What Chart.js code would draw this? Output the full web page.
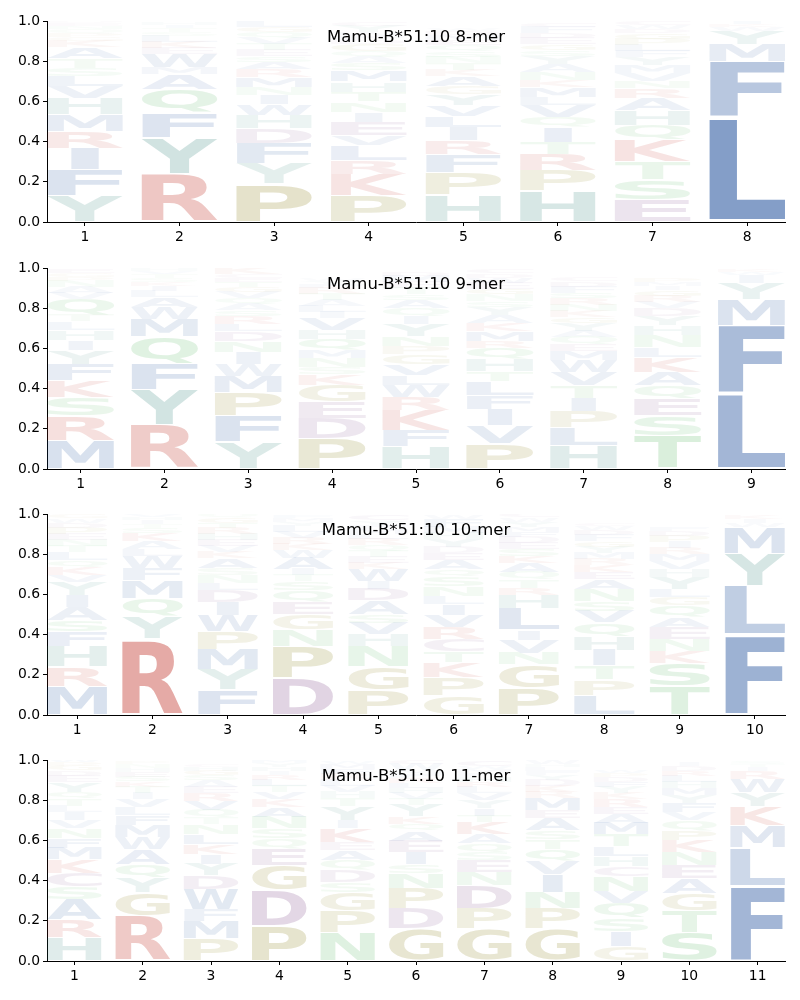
<!DOCTYPE html>
<html><head><meta charset="utf-8">
<script src="https://cdn.jsdelivr.net/npm/chart.js@4.4.0/dist/chart.umd.min.js"></script>
<style>
html,body{margin:0;padding:0;background:#fff;}
#wrap{position:relative;width:800px;height:1000px;background:#fff;}
canvas{position:absolute;left:0;}
</style></head><body><div id="wrap">
<canvas id="c8" width="800" height="246" style="top:0px"></canvas>
<canvas id="c9" width="800" height="246" style="top:247px"></canvas>
<canvas id="c10" width="800" height="246" style="top:493px"></canvas>
<canvas id="c11" width="800" height="246" style="top:739px"></canvas>
</div>
<script>
// ---- data: each column lists letters bottom -> top with their heights ----
const title8 = "Mamu-B*51:10 8-mer";
const pos8 = ["1","2","3","4","5","6","7","8"];
const logo8 = [
  "Y.133 F.13 I.105 R.083 M.083 H.08 V.06 L.053 S.04 T.046 A.055 K.03 G.02 P.02 Q.02 N.015 E.015 D.01",
  "R.24 Y.18 F.125 Q.115 A.075 M.035 W.065 E.03 K.03 L.03 S.02 T.02 I.015 H.015",
  "P.19 Y.1 F.1 D.075 H.065 W.055 I.045 N.04 M.05 R.04 A.035 S.03 E.03 T.03 V.03 Q.03 G.025 L.03",
  "P.133 K.105 R.07 L.075 V.05 E.065 I.05 N.05 T.05 H.05 M.055 S.035 A.03 Q.03 G.035 D.02 F.02 W.02 Y.03 C.02",
  "H.135 P.11 F.09 R.07 I.065 L.055 V.055 Y.055 G.04 A.05 K.03 T.035 N.03 S.03 Q.03 E.025 M.025 D.02 W.01",
  "H.155 P.1 R.083 T.058 I.075 Q.05 V.058 L.043 M.05 K.033 N.04 A.04 Y.04 S.03 G.03 E.03 D.025 F.03 C.02",
  "E.11 S.1 T.09 K.108 Q.075 H.075 A.058 R.05 N.035 V.04 M.04 Y.04 F.03 L.03 P.03 G.03 D.02 W.02 C.02",
  "L.52 F.28 M.085 Y.065 W.02 K.015 I.015"
];
const title9 = "Mamu-B*51:10 9-mer";
const pos9 = ["1","2","3","4","5","6","7","8","9"];
const logo9 = [
  "M.143 R.124 S.09 K.083 F.083 Y.07 I.05 H.05 L.04 T.033 Q.08 V.03 A.03 N.03 P.02 G.02 E.02",
  "R.217 Y.177 F.13 Q.133 M.09 W.058 A.05 L.03 I.025 K.02 S.02 T.02 V.015 H.015",
  "Y.134 F.13 P.115 M.083 W.06 I.058 N.055 D.05 L.035 R.04 S.03 A.03 Q.03 V.03 G.025 T.025 E.02 C.02 K.03",
  "P.15 D.1 E.083 G.083 K.053 S.035 N.045 M.04 Q.058 H.045 V.06 I.03 L.03 A.03 T.03 R.03 F.02 Y.015 W.01",
  "H.11 F.08 K.1 R.065 W.06 L.05 V.055 G.05 P.04 N.05 Y.06 I.04 Q.04 A.04 S.03 T.03 E.03 M.03 D.02",
  "P.126 V.09 I.08 F.07 L.07 T.05 H.058 Q.058 R.035 M.05 K.04 A.04 Y.04 S.03 N.03 G.03 E.03 W.025 D.02 C.02",
  "H.118 L.09 P.078 I.066 T.063 V.066 W.058 M.045 E.033 Q.04 A.03 Y.04 G.03 K.03 N.03 R.03 S.03 F.03 D.025 C.02",
  "T.167 S.1 E.083 Q.066 A.066 K.075 L.046 N.06 H.05 Y.045 D.04 V.03 R.03 G.03 I.02 M.02 P.02",
  "L.375 F.34 M.13 Y.08 I.04 W.015 K.015"
];
const title10 = "Mamu-B*51:10 10-mer";
const pos10 = ["1","2","3","4","5","6","7","8","9","10"];
const logo10 = [
  "M.143 R.096 H.1 F.075 S.058 A.066 I.058 Y.066 V.035 K.04 Q.035 L.04 T.03 N.03 E.03 P.03 D.025 W.02 G.02",
  "R.38 Y.11 Q.09 M.09 F.06 W.06 L.035 A.04 K.04 S.025 T.02 I.02 H.015 V.015",
  "F.126 Y.1 M.1 P.088 W.083 I.066 D.058 L.035 N.04 S.033 A.05 K.03 V.03 E.03 H.03 R.03 T.025 G.025 Q.02",
  "D.185 P.158 N.083 G.075 E.063 Q.055 S.045 T.03 I.03 A.058 W.04 K.03 R.03 V.03 L.03 Y.02 M.02 F.015",
  "P.126 G.116 N.1 H.058 V.058 S.045 A.066 D.058 I.04 W.06 K.03 E.03 T.03 Q.03 R.03 L.025 M.025 F.02 Y.02 C.03",
  "G.095 P.09 K.075 T.055 C.06 R.06 V.06 I.055 L.04 N.05 S.05 Q.035 A.045 E.035 D.03 Y.04 H.03 M.03 F.04 W.02",
  "P.134 G.116 N.058 V.066 I.05 L.108 H.065 R.035 T.04 Q.04 A.045 K.035 S.035 E.03 D.03 F.025 M.025 Y.025 W.02 C.02",
  "L.1 P.075 T.07 I.078 H.07 Q.066 V.058 S.05 N.058 A.05 E.035 K.035 R.03 M.03 Y.03 G.03 F.03 D.025 W.02 C.015",
  "T.143 S.116 K.058 N.06 E.06 A.05 Q.058 G.042 L.04 Y.058 H.04 V.04 M.035 R.03 I.03 P.03 D.025 F.02",
  "F.4 L.245 Y.16 M.13 W.02 I.02 K.02"
];
const title11 = "Mamu-B*51:10 11-mer";
const pos11 = ["1","2","3","4","5","6","7","8","9","10","11"];
const logo11 = [
  "H.118 R.09 A.1 S.06 C.07 K.066 M.058 F.05 N.05 V.04 I.04 L.03 T.035 Q.035 Y.05 E.03 D.025 G.025 P.02 W.015",
  "R.225 G.116 Y.075 Q.066 A.075 W.06 M.06 F.05 L.04 V.04 I.03 T.03 K.025 S.025 E.025 H.02 N.02 P.015",
  "P.11 M.09 F.058 W.1 D.066 Y.058 I.05 K.05 L.05 N.05 T.03 Q.04 V.045 R.04 E.03 A.03 S.025 G.025 H.02 C.015",
  "P.176 D.175 G.125 E.083 Q.05 S.05 N.058 A.05 K.04 V.035 T.03 L.03 R.025 I.02 H.02 Y.02 M.015",
  "N.143 P.108 G.09 S.05 D.06 Q.05 A.05 E.04 K.07 I.04 Y.07 T.04 H.03 V.03 L.03 R.03 F.025 M.025 W.015",
  "G.16 D.1 P.1 N.075 S.045 I.06 E.058 A.05 Q.035 K.035 Y.058 T.03 V.03 H.025 L.025 R.025 F.02 M.02 W.03 C.02",
  "G.16 P.1 D.116 N.066 E.058 S.04 Q.045 A.045 K.058 T.035 I.035 Y.04 V.035 L.03 R.025 H.025 F.02 M.02 W.015 C.03",
  "G.16 P.1 N.083 I.09 V.066 Q.058 T.05 S.045 A.058 E.04 M.058 R.03 K.03 D.03 Y.025 F.02 L.02 H.015 W.02",
  "G.072 I.075 S.066 Q.075 V.058 N.075 C.05 H.05 L.05 T.058 M.058 A.045 E.035 R.04 K.03 Y.03 F.025 D.025 P.02 W.015",
  "S.143 T.108 G.083 A.075 E.066 N.066 K.058 P.05 Q.05 V.04 F.045 Y.04 M.035 H.03 L.03 R.025 D.025 I.02",
  "F.375 L.19 M.11 K.095 Y.07 W.065 R.04 I.02 T.015 S.015"
];
const yTicks = [0, 0.2, 0.4, 0.6, 0.8, 1.0];

// ---- styles ----
const BASE = {blue:[20,70,150], red:[190,40,30], green:[60,170,70], olive:[130,120,10], purple:[110,50,120], teal:[30,120,110]};
const CLASS_OF = {A:'blue',V:'blue',L:'blue',I:'blue',M:'blue',F:'blue',W:'blue',K:'red',R:'red',D:'purple',E:'purple',C:'purple',S:'green',T:'green',N:'green',Q:'green',G:'olive',P:'olive',H:'teal',Y:'teal'};
function letterColor(l, h){
  const c = BASE[CLASS_OF[l]] || [120,120,120];
  const a = Math.min(1, 0.95*Math.pow(h, 0.9));
  return `rgba(${c[0]},${c[1]},${c[2]},${a.toFixed(3)})`;
}
const GLYPH_FONT = 'bold 200px "DejaVu Sans"';
const mcache = {};
function gm(ctx, l){
  if(!mcache[l]){
    ctx.save(); ctx.font = GLYPH_FONT; ctx.textAlign='left'; ctx.textBaseline='alphabetic';
    const m = ctx.measureText(l);
    mcache[l] = {l:m.actualBoundingBoxLeft, r:m.actualBoundingBoxRight, a:m.actualBoundingBoxAscent, d:m.actualBoundingBoxDescent};
    ctx.restore();
  }
  return mcache[l];
}
function drawGlyph(ctx, l, x, y, w, h, color){
  const m = gm(ctx,l), E = gm(ctx,'E');
  const gw = m.l + m.r, gh = m.a + m.d, ew = E.l + E.r;
  const sx = w / Math.max(gw, ew), sy = h / gh;
  const dx = x + (w - gw*sx)/2;
  ctx.save();
  ctx.translate(dx, y + h); ctx.scale(sx, sy);
  ctx.font = GLYPH_FONT; ctx.textAlign='left'; ctx.textBaseline='alphabetic';
  ctx.fillStyle = color;
  ctx.fillText(l, m.l, -m.d);
  ctx.restore();
}
const logoPlugin = {
  id: 'logo',
  afterDatasetsDraw(chart){
    const ctx = chart.ctx, a = chart.chartArea;
    ctx.save();
    ctx.beginPath(); ctx.rect(a.left, a.top, a.right-a.left, a.bottom-a.top); ctx.clip();
    chart.data.datasets.forEach((ds, di) => {
      const meta = chart.getDatasetMeta(di);
      meta.data.forEach((bar, i) => {
        const L = ds.letters[i]; if(!L) return;
        const p = bar.getProps(['x','y','base','width'], true);
        const top = Math.min(p.y, p.base), bot = Math.max(p.y, p.base);
        const h = bot - top; if(h < 0.3) return;
        const pad = h*0.025;
        drawGlyph(ctx, L, p.x - p.width/2, top + pad, p.width, h - 2*pad, letterColor(L, ds.data[i].y));
      });
    });
    ctx.restore();
  },
  afterDraw(chart, args, opts){
    const ctx = chart.ctx, a = chart.chartArea;
    ctx.save();
    ctx.font = '16.5px "DejaVu Sans"'; ctx.fillStyle = '#000';
    ctx.textAlign = 'center'; ctx.textBaseline = 'alphabetic';
    ctx.fillText(opts.title, (a.left + a.right)/2, a.top + 21);
    ctx.restore();
  }
};

function makePanel(id, title, labels, cols){
  const parsed = cols.map(s => s.trim().split(/\s+/).map(t => ({l:t[0], h:parseFloat(t.slice(1))})));
  const n = labels.length;
  const depth = Math.max(...parsed.map(c => c.length));
  const datasets = [];
  for(let r = 0; r < depth; r++){
    datasets.push({
      data: parsed.map((c,i) => ({x:i+1, y: c[r] ? c[r].h : 0})),
      letters: parsed.map(c => c[r] ? c[r].l : null),
      backgroundColor: 'rgba(0,0,0,0)', borderWidth: 0,
      barPercentage: 0.8, categoryPercentage: 1.0
    });
  }
  const tickFont = {family:'"DejaVu Sans"', size:13.9};
  const grid = {drawOnChartArea:false, drawTicks:true, tickLength:4, tickColor:'#000', tickWidth:1, offset:false};
  const border = {display:true, color:'#000', width:1};
  new Chart(document.getElementById(id), {
    type: 'bar',
    data: {datasets},
    options: {
      responsive:false, animation:false, devicePixelRatio:1,
      layout:{padding:{top:21, right:15, left:0, bottom:0}},
      plugins:{legend:{display:false}, tooltip:{enabled:false}, logo:{title}},
      scales:{
        x:{type:'linear', stacked:true, min:0.6, max:n+0.4, offset:false,
           afterBuildTicks: s => { s.ticks = labels.map((t,i) => ({value:i+1})); },
           afterFit: s => { s.height = 24; },
           ticks:{callback:(v) => labels[Math.round(v)-1], color:'#000', font:tickFont, padding:3, maxRotation:0, autoSkip:false},
           grid, border},
        y:{type:'linear', stacked:true, min:0, max:1,
           afterBuildTicks: s => { s.ticks = yTicks.map(v => ({value:v})); },
           afterFit: s => { s.width = 47; },
           ticks:{callback:v => v.toFixed(1), color:'#000', font:tickFont, padding:3},
           grid, border}
      }
    },
    plugins:[logoPlugin]
  });
}
makePanel('c8', title8, pos8, logo8);
makePanel('c9', title9, pos9, logo9);
makePanel('c10', title10, pos10, logo10);
makePanel('c11', title11, pos11, logo11);
</script></body></html>
